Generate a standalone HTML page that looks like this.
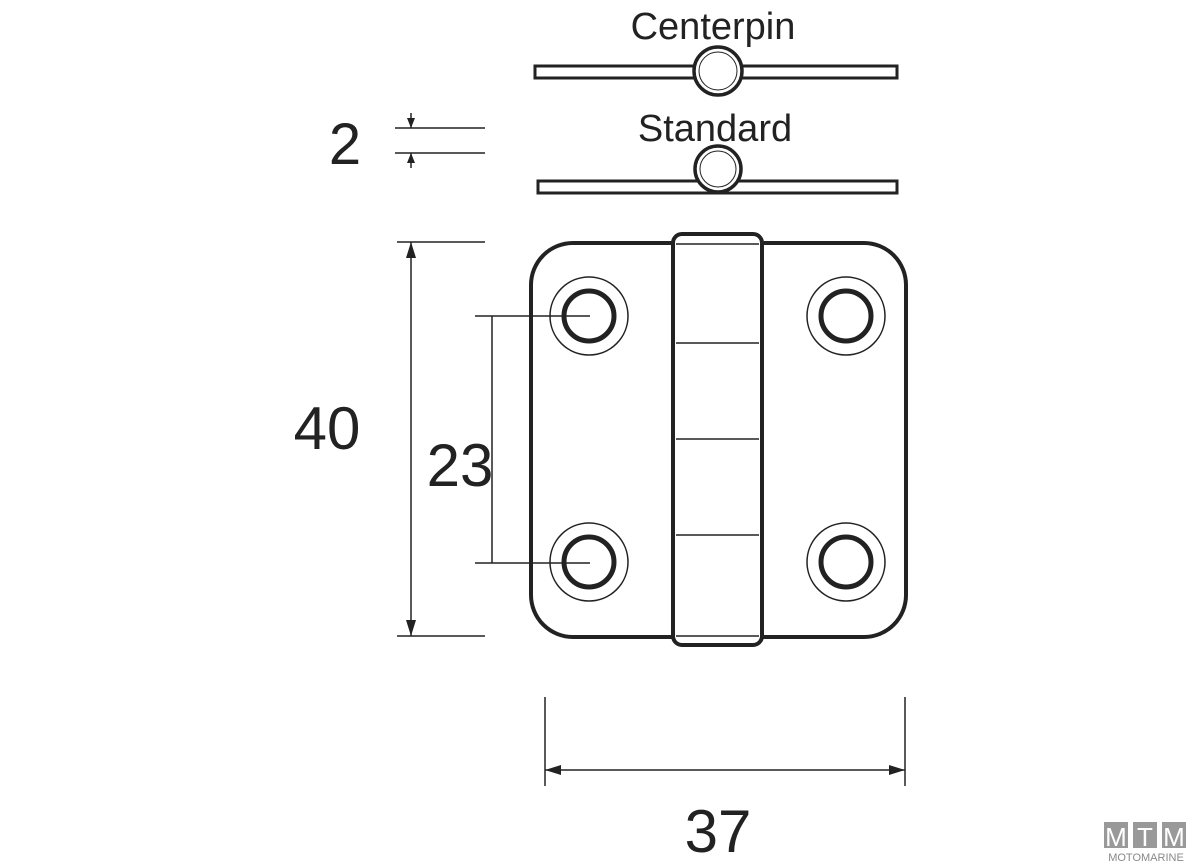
<!DOCTYPE html>
<html><head><style>html,body{margin:0;padding:0;background:#fff}svg{display:block}</style></head>
<body>
<svg width="1200" height="864" viewBox="0 0 1200 864" xmlns="http://www.w3.org/2000/svg" font-family="Liberation Sans, sans-serif">
<g fill="none" stroke="#222">
<!-- centerpin -->
<rect x="535" y="66" width="362" height="12" stroke-width="3"/>
<circle cx="718" cy="71" r="24" fill="#fff" stroke-width="3.5"/>
<circle cx="718" cy="71" r="19" stroke-width="1"/>
<!-- standard -->
<rect x="538" y="181" width="359" height="12" stroke-width="3"/>
<circle cx="718" cy="169" r="23" fill="#fff" stroke-width="3.5"/>
<circle cx="718" cy="169" r="18" stroke-width="1"/>
<!-- plate -->
<rect x="531" y="243" width="375" height="394" rx="42" stroke-width="4"/>
<rect x="673" y="234" width="89" height="411" rx="9" fill="#fff" stroke-width="4"/>
<g stroke-width="1.5">
<line x1="676" y1="244" x2="759" y2="244"/>
<line x1="676" y1="343" x2="759" y2="343"/>
<line x1="676" y1="439" x2="759" y2="439"/>
<line x1="676" y1="535" x2="759" y2="535"/>
<line x1="676" y1="636" x2="759" y2="636"/>
</g>
<g>
<circle cx="589" cy="316" r="39" stroke-width="1.5"/><circle cx="589" cy="316" r="25" stroke-width="5"/>
<circle cx="846" cy="316" r="39" stroke-width="1.5"/><circle cx="846" cy="316" r="25" stroke-width="5"/>
<circle cx="589" cy="562" r="39" stroke-width="1.5"/><circle cx="589" cy="562" r="25" stroke-width="5"/>
<circle cx="846" cy="562" r="39" stroke-width="1.5"/><circle cx="846" cy="562" r="25" stroke-width="5"/>
</g>
<!-- dims -->
<g stroke-width="1.5">
<line x1="395" y1="128" x2="485" y2="128"/><line x1="395" y1="153" x2="485" y2="153"/>
<line x1="411" y1="113" x2="411" y2="128"/><line x1="411" y1="153" x2="411" y2="168"/>
<line x1="397" y1="242" x2="485" y2="242"/><line x1="397" y1="636" x2="485" y2="636"/>
<line x1="411" y1="242" x2="411" y2="636"/>
<line x1="475" y1="316" x2="590" y2="316"/><line x1="475" y1="563" x2="590" y2="563"/>
<line x1="492" y1="316" x2="492" y2="563"/>
<line x1="545" y1="697" x2="545" y2="786"/><line x1="905" y1="697" x2="905" y2="786"/>
<line x1="545" y1="770" x2="905" y2="770"/>
</g>
</g>
<g fill="#222">
<polygon points="411,128 407,118 415,118"/><polygon points="411,153 407,163 415,163"/>
<polygon points="411,242 406,258 416,258"/><polygon points="411,636 406,620 416,620"/>
<polygon points="545,770 561,765 561,775"/><polygon points="905,770 889,765 889,775"/>
</g>
<g fill="#222" text-anchor="middle">
<text x="713" y="39" font-size="38">Centerpin</text>
<text x="715" y="141" font-size="38">Standard</text>
<text x="345" y="164" font-size="58">2</text>
<text x="327" y="449" font-size="60">40</text>
<text x="460" y="486" font-size="60">23</text>
<text x="718" y="852" font-size="60">37</text>
</g>
<g font-size="26" fill="#fff" text-anchor="middle">
<rect x="1104" y="822" width="24" height="26" fill="#999"/><text x="1116" y="846">M</text>
<rect x="1133" y="822" width="24" height="26" fill="#999"/><text x="1145" y="846">T</text>
<rect x="1162" y="822" width="24" height="26" fill="#999"/><text x="1174" y="846">M</text>
<text x="1146" y="861" font-size="11" fill="#888">MOTOMARINE</text>
</g>
</svg>
</body></html>
